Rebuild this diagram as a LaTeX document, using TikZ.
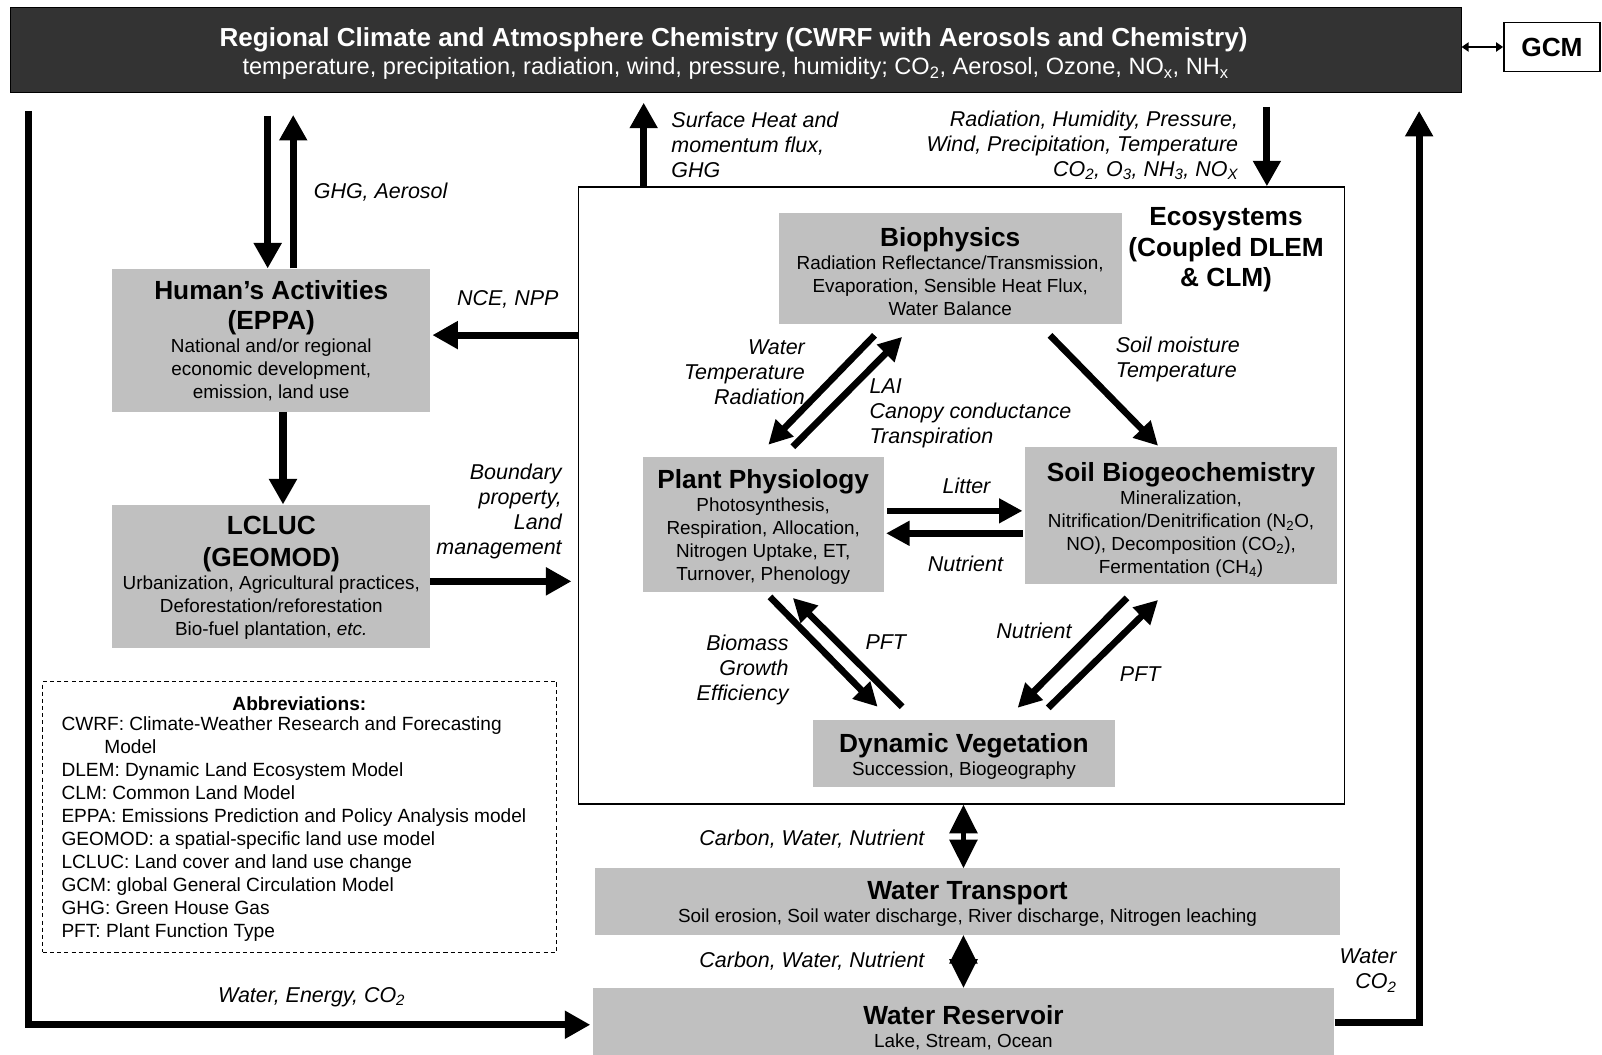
\documentclass[tikz,border=0pt]{standalone}
\usepackage{fontspec}
\setmainfont{Liberation Sans}
\usetikzlibrary{arrows.meta}
\definecolor{boxgray}{RGB}{192,192,192}
\definecolor{bardark}{RGB}{51,51,51}
\newcommand\fBody{\fontsize{18.5}{22.5}\selectfont\lineskiplimit=-40pt\relax}
\newcommand\fAbb{\fontsize{18.7}{22.6}\selectfont\lineskiplimit=-40pt\relax}
\newcommand\fTtl{\fontsize{25.7}{30}\selectfont\bfseries}
\newcommand\fBar{\fontsize{25.5}{30}\selectfont\bfseries}
\newcommand\fLab{\fontsize{21}{24.5}\selectfont\itshape\lineskiplimit=-40pt\relax}
\newcommand\fSub{\fontsize{23.1}{27}\selectfont}
\tikzset{
  box/.style={fill=boxgray, draw=none, inner sep=0pt},
  boxtext/.style={inner sep=0pt, align=center, font=\fBody},
  lab/.style={inner sep=0pt, font=\fLab},
  arr/.style={line width=7pt, line join=miter, -{Triangle[length=25pt,width=26pt]}},
  iarr/.style={line width=6.5pt, -{Triangle[length=23pt,width=23pt]}},
  dbl/.style={line width=4pt, {Triangle[length=28pt,width=27pt]}-{Triangle[length=28pt,width=27pt]}},
  tarr/.style={line width=2pt, {Triangle[length=7pt,width=9pt]}-{Triangle[length=7pt,width=9pt]}},
}
\begin{document}
\begin{tikzpicture}[x=1pt,y=-1pt]
\useasboundingbox (0,0) rectangle (1568,1032);
\fill[white] (0,0) rectangle (1568,1032);

% top bar
\node[fill=bardark, draw=black, line width=1pt, minimum width=1420pt, minimum height=84pt, inner sep=0pt] (bar) at (720,49) {};
\node[inner sep=0pt, text=white, font=\fBar] (bart) at (718,38.5) {Regional Climate and Atmosphere Chemistry (CWRF with Aerosols and Chemistry)};
\node[inner sep=0pt, text=white, font=\fSub] (bars) at (720,67) {temperature, precipitation, radiation, wind, pressure, humidity; CO\textsubscript{2}, Aerosol, Ozone, NO\textsubscript{x}, NH\textsubscript{x}};

% GCM
\node[draw=black, fill=white, line width=1.5pt, minimum width=94pt, minimum height=48pt, inner sep=0pt, font=\fTtl] (gcm) at (1519,46) {GCM};
\draw[tarr] (bar.east |- gcm.west) -- (gcm.west);

% left boxes
\node[box, minimum width=311pt, minimum height=140pt] (ha) at (265.5,333) {};
\node[boxtext] (hat) at (265.5,333.5) {{\fTtl Human's Activities}\\[7pt]{\fTtl (EPPA)}\\National and/or regional\\economic development,\\emission, land use};
\node[box, minimum width=311pt, minimum height=140pt] (lc) at (265.5,564) {};
\node[boxtext] (lct) at (265.5,565.5) {{\fTtl LCLUC}\\[8.5pt]{\fTtl (GEOMOD)}\\Urbanization, Agricultural practices,\\Deforestation/reforestation\\Bio-fuel plantation, \textit{etc.}};

% ecosystem frame
\node[draw=black, line width=1.3pt, fill=white, minimum width=750pt, minimum height=604pt, inner sep=0pt] (eco) at (941,485) {};
\node[inner sep=0pt, align=center, font=\fTtl] (ecot) at (1200,244.5) {Ecosystems\\(Coupled DLEM\\\& CLM)};

\node[box, minimum width=336pt, minimum height=109pt] (bio) at (930,262.5) {};
\node[boxtext] (biot) at (930,265.5) {{\fTtl Biophysics}\\Radiation Reflectance/Transmission,\\Evaporation, Sensible Heat Flux,\\Water Balance};
\node[box, minimum width=236pt, minimum height=132pt] (pp) at (747,513) {};
\node[boxtext] (ppt) at (747,516) {{\fTtl Plant Physiology}\\Photosynthesis,\\Respiration, Allocation,\\Nitrogen Uptake, ET,\\Turnover, Phenology};
\node[box, minimum width=306pt, minimum height=134pt] (sb) at (1156,505) {};
\node[boxtext] (sbt) at (1156,509) {{\fTtl Soil Biogeochemistry}\\Mineralization,\\Nitrification/Denitrification (N\textsubscript{2}O,\\NO), Decomposition (CO\textsubscript{2}),\\Fermentation (CH\textsubscript{4})};
\node[box, minimum width=295pt, minimum height=65pt] (dv) at (943.5,737.5) {};
\node[boxtext] (dvt) at (943.5,740.5) {{\fTtl Dynamic Vegetation}\\Succession, Biogeography};

% water boxes
\node[box, minimum width=730pt, minimum height=65pt] (wt) at (947,882.5) {};
\node[boxtext] (wtt) at (947,885) {{\fTtl Water Transport}\\Soil erosion, Soil water discharge, River discharge, Nitrogen leaching};
\node[box, minimum width=726pt, minimum height=76pt] (wr) at (943,1005) {};
\node[boxtext] (wrt) at (943,1005.5) {{\fTtl Water Reservoir}\\Lake, Stream, Ocean};

% abbreviations
\node[draw=black, line width=1pt, dash pattern=on 4pt off 3pt, minimum width=503pt, minimum height=265pt, inner sep=0pt] (abb) at (293.5,799.5) {};
\node[inner sep=0pt, font=\fAbb\bfseries] (abbh) at (293,689) {Abbreviations:};
\node[inner sep=0pt, align=left, anchor=west, font=\fAbb] (abbt) at (60,811.5) {CWRF: Climate-Weather Research and Forecasting\\\hspace*{42pt}Model\\DLEM: Dynamic Land Ecosystem Model\\CLM: Common Land Model\\EPPA: Emissions Prediction and Policy Analysis model\\GEOMOD: a spatial-specific land use model\\LCLUC: Land cover and land use change\\GCM: global General Circulation Model\\GHG: Green House Gas\\PFT: Plant Function Type};

% outer connectors
\draw[arr, shorten <=22pt] (bar.south -| 262,0) -- (ha.north -| 262,0);
\draw[arr, shorten >=21pt] (ha.north -| 287,0) -- (bar.south -| 287,0);
\draw[arr] (ha.south -| 277,0) -- (lc.north -| 277,0);
\draw[arr, shorten >=2pt] (eco.west |- 0,328) -- (ha.east |- 0,328);
\draw[arr, shorten >=6pt] (lc.east |- 0,569) -- (eco.west |- 0,569);
\draw[arr, shorten >=9pt] (eco.north -| 630,0) -- (bar.south -| 630,0);
\draw[arr, shorten <=13pt] (bar.south -| 1240,0) -- (eco.north -| 1240,0);
\draw[arr, shorten <=17pt, shorten >=2pt] (bar.south -| 28,0) -- (28,1003) -- (wr.west |- 0,1003);
\draw[arr, shorten >=17pt] (wr.east |- 0,1001) -- (1389,1001) -- (bar.south -| 1389,0);

% inner connectors
\draw[iarr] ([shift={(-74,11)}]bio.south) -- ([shift={(5,-11.5)}]pp.north);
\draw[iarr] ([shift={(29,-9.5)}]pp.north) -- ([shift={(-47,12.5)}]bio.south);
\draw[iarr] ([shift={(97.7,11)}]bio.south) -- ([shift={(-22.5,-1.5)}]sb.north);
\draw[iarr, shorten <=3pt, shorten >=2pt] (pp.east |- 0,500) -- (sb.west |- 0,500);
\draw[iarr, shorten <=2pt, shorten >=2pt] (sb.west |- 0,522) -- (pp.east |- 0,522);
\draw[iarr] ([shift={(6.6,5)}]pp.south) -- ([shift={(-84.5,-13)}]dv.north);
\draw[iarr] ([shift={(-60.5,-13)}]dv.north) -- ([shift={(29,6)}]pp.south);
\draw[iarr] ([shift={(-53,13)}]sb.south) -- ([shift={(52.5,-12)}]dv.north);
\draw[iarr] ([shift={(82.5,-12)}]dv.north) -- ([shift={(-22.5,15)}]sb.south);
\draw[dbl] (eco.south -| 943,0) -- (wt.north -| 943,0);
\draw[dbl] (wt.south -| 943,0) -- (wr.north -| 943,0);

% labels
\node[lab, anchor=west] (l1) at (307,188) {GHG, Aerosol};
\node[lab] (l2) at (497,293) {NCE, NPP};
\node[lab, align=right, anchor=east] (l3) at (550,501) {Boundary\\property,\\Land\\management};
\node[lab, align=left, anchor=west] (l4) at (657,142) {Surface Heat and\\momentum flux,\\GHG};
\node[lab, align=right, anchor=east] (l5) at (1212,142) {Radiation, Humidity, Pressure,\\Wind, Precipitation, Temperature\\CO\textsubscript{2}, O\textsubscript{3}, NH\textsubscript{3}, NO\textsubscript{X}};
\node[lab, align=right, anchor=east] (l6) at (788,364) {Water\\Temperature\\Radiation};
\node[lab, align=left, anchor=west] (l7) at (851,404.5) {LAI\\Canopy conductance\\Transpiration};
\node[lab, align=left, anchor=west] (l8) at (1092,352) {Soil moisture\\Temperature};
\node[lab] (l9) at (946,476) {Litter};
\node[lab] (l10) at (945,552) {Nutrient};
\node[lab, align=right, anchor=east] (l11) at (772,655.5) {Biomass\\Growth\\Efficiency};
\node[lab] (l12) at (867,628) {PFT};
\node[lab] (l13) at (1012,617) {Nutrient};
\node[lab] (l14) at (1116,660) {PFT};
\node[lab, anchor=east] (l15) at (905,821) {Carbon, Water, Nutrient};
\node[lab, anchor=east] (l16) at (905,941) {Carbon, Water, Nutrient};
\node[lab] (l17) at (305,976) {Water, Energy, CO\textsubscript{2}};
\node[lab, align=right, anchor=east] (l18) at (1367,950) {Water\\CO\textsubscript{2}};
\end{tikzpicture}
\end{document}
